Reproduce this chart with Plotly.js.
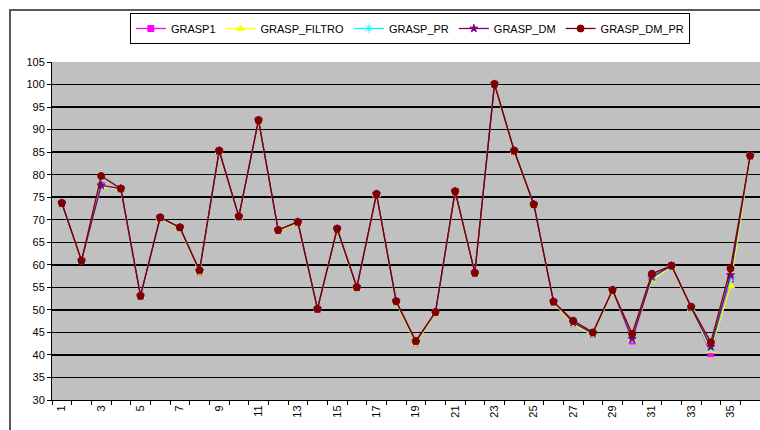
<!DOCTYPE html>
<html>
<head>
<meta charset="utf-8">
<script src="https://cdn.plot.ly/plotly-3.0.1.min.js"></script>
<style>
html,body{margin:0;padding:0;background:#fff;}
#wrap{position:relative;width:760px;height:430px;overflow:hidden;}
#chart{position:absolute;left:0;top:0;width:760px;height:430px;}
#frame{position:absolute;left:9px;top:9px;width:900px;height:600px;border:2px solid #5a5a5a;pointer-events:none;}
</style>
</head>
<body>
<div id="wrap"><div id="chart"></div><div id="frame"></div></div>
<script>
const categories = [1,2,3,4,5,6,7,8,9,10,11,12,13,14,15,16,17,18,19,20,21,22,23,24,25,26,27,28,29,30,31,32,33,34,35,36];
const tickLabels = ['1','3','5','7','9','11','13','15','17','19','21','23','25','27','29','31','33','35'];
const tickPositions = [1,3,5,7,9,11,13,15,17,19,21,23,25,27,29,31,33,35];

const grasp1     = [73.7,60.9,77.6,76.9,53.1,70.5,68.3,58.4,85.3,70.7,92.1,67.7,69.5,50.2,68.0,55.0,75.7,51.9,42.7,49.5,76.3,58.2,100.1,85.3,73.4,51.8,47.0,44.6,54.4,43.1,57.0,59.8,50.3,40.3,56.8,84.2];
const graspFiltro= [73.6,60.7,77.3,76.8,53.0,70.4,68.1,58.2,85.1,70.5,91.9,67.5,69.3,50.0,67.8,54.8,75.5,51.6,42.5,49.3,76.1,58.0,99.9,85.1,73.2,51.6,46.8,44.4,54.2,43.4,56.6,59.6,50.1,40.9,55.3,84.0];
const graspPR    = [73.7,60.9,77.6,76.9,53.1,70.5,68.3,58.5,85.3,70.7,92.1,67.7,69.5,50.2,68.0,55.0,75.7,51.9,42.8,49.5,76.3,58.2,100.1,85.3,73.4,51.8,47.1,44.6,54.4,43.5,57.0,59.8,50.3,41.3,57.0,84.2];
const graspDM    = [73.7,60.9,77.6,76.9,53.1,70.5,68.3,58.6,85.3,70.7,92.1,67.7,69.5,50.2,68.0,55.0,75.7,51.9,42.9,49.5,76.3,58.2,100.1,85.3,73.4,51.8,47.2,44.8,54.4,43.6,57.3,59.8,50.5,41.8,57.7,84.2];
const graspDMPR  = [73.7,60.9,79.7,76.9,53.1,70.5,68.3,58.8,85.3,70.7,92.1,67.7,69.5,50.2,68.0,55.0,75.7,51.9,43.1,49.5,76.3,58.2,100.1,85.3,73.4,51.8,47.6,45.0,54.4,44.7,58.0,59.8,50.7,42.8,59.2,84.2];

const seriesNames = ['GRASP1','GRASP_FILTRO','GRASP_PR','GRASP_DM','GRASP_DM_PR'];
const seriesData = [grasp1, graspFiltro, graspPR, graspDM, graspDMPR];
const seriesColors = ['#FF00FF','#FFFF00','#00FFFF','#800080','#800000'];
const seriesSymbols = ['square','triangle-up','asterisk-open','star','circle'];
const seriesSizes = [6,7,7,6,7];

const traces = seriesNames.map((n,i)=>({
  type:'scatter', mode:'lines+markers', name:n,
  x:categories, y:seriesData[i],
  line:{color:seriesColors[i], width:1.3},
  marker:{color:seriesColors[i], symbol:seriesSymbols[i], size:seriesSizes[i], line:{color:seriesColors[i], width:1}}
}));

const font = {family:'Arial, "Liberation Sans", sans-serif', size:11, color:'#000'};
const layout = {
  width:760, height:430,
  margin:{l:52, r:0, t:62, b:30, pad:0},
  paper_bgcolor:'rgba(0,0,0,0)', plot_bgcolor:'#C0C0C0',
  font:font,
  showlegend:true,
  legend:{orientation:'h', x:0.110, y:1.145, xanchor:'left', yanchor:'top',
          bordercolor:'#000', borderwidth:1, bgcolor:'#fff',
          font:{family:font.family, size:11, color:'#000'}, itemwidth:30},
  xaxis:{type:'linear', range:[0.5,36.5], tickmode:'array', tickvals:tickPositions, ticktext:tickLabels,
         tickangle:-90, ticks:'', showgrid:false, zeroline:false,
         showline:true, linecolor:'#000', linewidth:1,
         tickfont:{family:font.family, size:11, color:'#000'},
         minor:{tickmode:'linear', tick0:0.5, dtick:1, ticks:'outside', ticklen:4, tickcolor:'#000', showgrid:false}},
  yaxis:{range:[30,105], dtick:5, tick0:30, ticks:'outside', ticklen:4, tickcolor:'#000',
         showgrid:true, gridcolor:'#000', gridwidth:1.5, zeroline:false,
         showline:true, linecolor:'#000', linewidth:1,
         tickfont:{family:font.family, size:11, color:'#000'}}
};
Plotly.newPlot('chart', traces, layout, {staticPlot:true, displayModeBar:false});
</script>
</body>
</html>
